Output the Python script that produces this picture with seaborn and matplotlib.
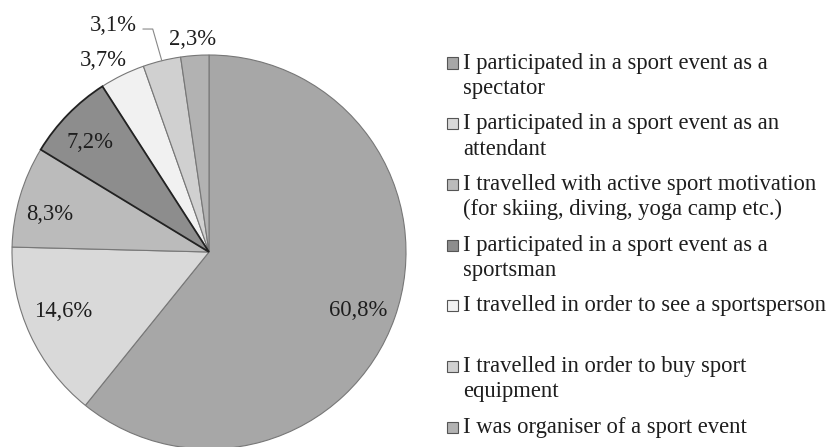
import numpy as np
import matplotlib
matplotlib.use("Agg")
import matplotlib.pyplot as plt
from matplotlib.patches import Rectangle
import seaborn as sns

# share of respondents per kind of sport-related travel
categories = [
    "I participated in a sport event as a\nspectator",
    "I participated in a sport event as an\nattendant",
    "I travelled with active sport motivation\n(for skiing, diving, yoga camp etc.)",
    "I participated in a sport event as a\nsportsman",
    "I travelled in order to see a sportsperson",
    "I travelled in order to buy sport\nequipment",
    "I was organiser of a sport event",
]
shares = [60.8, 14.6, 8.3, 7.2, 3.7, 3.1, 2.3]
share_labels = ["60,8%", "14,6%", "8,3%", "7,2%", "3,7%", "3,1%", "2,3%"]

colors = ["#a7a7a7", "#d9d9d9", "#bbbbbb", "#8d8d8d", "#f1f1f1", "#d0d0d0", "#b2b2b2"]
# label placement: radius (in pie radii) and angle shift from slice middle
label_radius = [0.815, 0.80, 0.83, 0.823, 1.11, 1.25, 1.08]
label_shift = [-1.8, -2.5, 3.3, 1.6, 2.8, 9.0, 0.2]

sns.set_style("white")
plt.rcParams["font.family"] = ["Liberation Serif", "DejaVu Serif"]
FS = 16.3
TXT = "#1e1e1e"

W, H = 828, 447
fig = plt.figure(figsize=(W / 100, H / 100), dpi=100)
cx, cy, r = 209, 252, 197
ax = fig.add_axes([(cx - r) / W, (H - cy - r) / H, 2 * r / W, 2 * r / H])

wedges, _ = ax.pie(shares, colors=colors, startangle=90, counterclock=False,
                   wedgeprops=dict(edgecolor="#777777", linewidth=0.8))
ax.set_xlim(-1, 1)
ax.set_ylim(-1, 1)
ax.set_aspect("equal")
ax.axis("off")

# the sportsman slice is outlined darker in the original
wedges[3].set_edgecolor("#222222")
wedges[3].set_linewidth(1.3)
wedges[3].set_zorder(3)

for i, (w, lab) in enumerate(zip(wedges, share_labels)):
    mid = np.deg2rad((w.theta1 + w.theta2) / 2)
    ang = mid + np.deg2rad(label_shift[i])
    lx, ly = label_radius[i] * np.cos(ang), label_radius[i] * np.sin(ang)
    ax.text(lx, ly, lab, ha="center", va="center", fontsize=FS, color=TXT)
    if i == 5:
        ex, ey = np.cos(mid), np.sin(mid)
        ax.plot([lx + 0.15, lx + 0.2, ex], [ly - 0.02, ly - 0.02, ey],
                color="#888888", lw=0.8, clip_on=False)

# legend: two-line slot per entry, marker on first line
y0, step, lsp = 63, 60.7, 25.5
for i, (lab, col) in enumerate(zip(categories, colors)):
    yc = y0 + i * step
    fig.patches.append(Rectangle((447 / W, 1 - (yc + 5.5) / H), 11 / W, 11 / H,
                                 transform=fig.transFigure, facecolor=col,
                                 edgecolor="#555555", linewidth=0.8))
    for j, line in enumerate(lab.split("\n")):
        fig.text(463 / W, 1 - (yc + j * lsp) / H, line, ha="left",
                 va="center", fontsize=FS, color=TXT)

fig.savefig("out.png", dpi=100)
